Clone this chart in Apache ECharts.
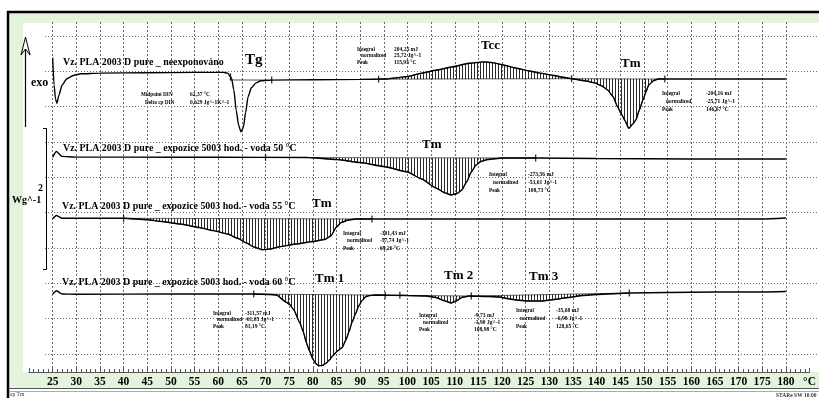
<!DOCTYPE html>
<html><head><meta charset="utf-8">
<script src="https://cdn.jsdelivr.net/npm/echarts@6/dist/echarts.min.js"></script>
<style>html,body{margin:0;padding:0;background:#fff}#c{width:819px;height:398px}</style>
</head><body><div id="c"></div><script>
// ---- DATA (temperature °C, heat flow W/g with display offset) ----
const curveUnexposed = [[25.0,4.49],[25.3,4.10],[25.6,3.90],[25.9,3.84],[26.3,3.95],[27.0,4.10],[28.0,4.19],[29.5,4.24],[31,4.26],[35,4.27],[45,4.275],[55,4.28],[61,4.28],[62,4.27],[62.8,4.20],[63.3,4.03],[63.8,3.74],[64.3,3.53],[64.8,3.43],[65.3,3.49],[65.8,3.71],[66.3,3.93],[67,4.06],[68,4.13],[69,4.16],[71,4.17],[80,4.175],[90,4.18],[95,4.185],[100,4.22],[103,4.27],[106,4.31],[109.6,4.36],[113,4.41],[116,4.43],[118,4.42],[120,4.39],[123,4.34],[125.8,4.30],[128,4.27],[130.6,4.24],[133,4.21],[134.7,4.19],[137.5,4.16],[139.6,4.13],[141,4.09],[142.3,4.03],[143.5,3.93],[144.4,3.79],[145.2,3.69],[145.9,3.60],[146.8,3.48],[147.6,3.54],[148.3,3.60],[149,3.74],[149.8,3.89],[150.4,4.00],[151,4.10],[152,4.16],[153,4.185],[160,4.185],[170,4.185],[180,4.185]];
const curveWater50 = [[25,3.07],[25.8,3.15],[27,3.08],[30,3.07],[40,3.07],[60,3.067],[79,3.064],[85,3.036],[90,2.993],[95,2.936],[100,2.857],[103,2.757],[106,2.629],[108,2.557],[109.2,2.529],[110.5,2.55],[111.5,2.60],[112.5,2.714],[113.5,2.857],[114.5,2.957],[115.5,3.007],[117,3.036],[120,3.057],[127.1,3.057],[140,3.05],[160,3.043],[180,3.043]];
const curveWater55 = [[25,2.19],[25.8,2.236],[27,2.196],[30,2.196],[40,2.196],[45,2.176],[48,2.15],[52,2.114],[56,2.064],[59,2.019],[62,1.971],[64,1.914],[66,1.843],[67.5,1.786],[69.3,1.747],[71,1.757],[73,1.79],[76.5,1.829],[80,1.864],[82.5,1.893],[83.8,1.943],[85,2.071],[86,2.136],[87.5,2.171],[89,2.186],[92.5,2.186],[100,2.186],[140,2.186],[175,2.186],[180,2.2]];
const curveWater60 = [[25,1.114],[25.8,1.161],[27,1.114],[30,1.11],[50,1.114],[67.5,1.114],[71,1.107],[72.3,1.10],[74.4,0.996],[75.1,0.964],[76,0.886],[77.2,0.71],[78,0.571],[78.6,0.424],[79.3,0.30],[80,0.186],[80.6,0.121],[81.2,0.09],[82,0.093],[82.8,0.124],[83.5,0.171],[84.2,0.233],[85.2,0.30],[86.2,0.35],[87,0.457],[87.6,0.567],[88.3,0.714],[89,0.829],[89.7,0.943],[90.4,1.019],[91.1,1.071],[91.8,1.09],[93.2,1.10],[100,1.093],[104,1.086],[106,1.064],[108,1.014],[109.2,0.986],[110.3,1.014],[111.5,1.064],[113,1.086],[117,1.079],[119.5,1.071],[121,1.05],[123,1.029],[125.5,1.014],[128.5,1.014],[131,1.036],[134,1.064],[137,1.093],[140,1.107],[146.9,1.129],[155,1.136],[165,1.143],[175,1.143],[180,1.15]];
const tgTangent = [[62.4,4.172],[71.3,4.170]];
// integration limits (°C) per curve
const limitsUnexposed = [62.6, 71.3, 93.9, 134.7, 154.4];
const limitsWater50 = [70.0, 127.1];
const limitsWater55 = [40.0, 92.5];
const limitsWater60 = [67.5, 95.3, 98.4, 113.5, 146.9];
// hatched peak areas: [curve index, from, to]
const peakAreas = [[0,93.9,134.7],[0,134.7,154.4],[1,70.0,127.1],[2,40.0,92.5],[3,67.5,95.3],[3,98.4,113.5],[3,113.5,146.9]];
const xTicks = [25,30,35,40,45,50,55,60,65,70,75,80,85,90,95,100,105,110,115,120,125,130,135,140,145,150,155,160,165,170,175,180];
const titles = ['Vz. PLA 2003 D pure _ neexponováno','Vz. PLA 2003 D pure _ expozice 5003 hod. - voda 50 °C','Vz. PLA 2003 D pure _ expozice 5003 hod. - voda 55 °C','Vz. PLA 2003 D pure _ expozice 5003 hod. - voda 60 °C'];
const peakNames = ['Tg','Tcc','Tm','Tm','Tm','Tm 1','Tm 2','Tm 3'];
const tgResult = [['Midpoint DIN','62,37 °C'],['Delta cp DIN','0,629 Jg^-1K^-1']];
const tccResult = [['Integral','204,25 mJ'],['normalized','25,72 Jg^-1'],['Peak','115,95 °C']];
const tmResult0 = [['Integral','-204,16 mJ'],['normalized','-25,71 Jg^-1'],['Peak','146,67 °C']];
const tmResult50 = [['Integral','-273,56 mJ'],['normalized','-53,61 Jg^-1'],['Peak','108,73 °C']];
const tmResult55 = [['Integral','-301,43 mJ'],['normalized','-57,74 Jg^-1'],['Peak','69,26 °C']];
const tm1Result60 = [['Integral','-311,57 mJ'],['normalized','-61,05 Jg^-1'],['Peak','81,19 °C']];
const tm2Result60 = [['Integral','-9,73 mJ'],['normalized','-1,90 Jg^-1'],['Peak','108,98 °C']];
const tm3Result60 = [['Integral','-35,68 mJ'],['normalized','-6,98 Jg^-1'],['Peak','128,65 °C']];

// ---- helpers ----
const curves = [curveUnexposed, curveWater50, curveWater55, curveWater60];
const limits = [limitsUnexposed, limitsWater50, limitsWater55, limitsWater60];
function interp(c, t){
  for (let i=0;i<c.length-1;i++){const a=c[i],b=c[i+1]; if(t>=a[0]&&t<=b[0]) return a[1]+(b[1]-a[1])*(t-a[0])/(b[0]-a[0]);}
  return c[c.length-1][1];
}
const hc = document.createElement('canvas'); hc.width=3; hc.height=4;
const hg = hc.getContext('2d'); hg.fillStyle='#2a2a2a'; hg.fillRect(0,0,1,4);
const hatch = {image: hc, repeat: 'repeat'};
const SERIF = '"Liberation Serif","Times New Roman",serif';
const GREEN = '#e3f3dc';

function txt(x,y,s,size,extra){
  return Object.assign({type:'text', x:x, y:y, z:100, silent:true,
    style:{text:s, font:'bold '+size+'px '+SERIF, fill:'#000', verticalAlign:'middle', align:'left'}}, extra||{});
}
function block(rows, x, vx, y0, dy){
  const out=[];
  rows.forEach((r,i)=>{
    out.push(txt(x + (i===1?4:0), y0+i*dy, r[0], 6.5, {scaleX:0.8}));
    out.push(txt(vx, y0+i*dy, r[1], 6.5, {scaleX:0.85}));
  });
  return out;
}

const graphics = [
  {type:'rect', z:-100, shape:{x:9,y:13,width:810,height:10}, style:{fill:GREEN}},
  {type:'rect', z:-100, shape:{x:9,y:13,width:14,height:376}, style:{fill:GREEN}},
  {type:'rect', z:-100, shape:{x:23,y:372,width:796,height:16}, style:{fill:GREEN}},
  {type:'line', z:50, shape:{x1:7,y1:12,x2:819,y2:12}, style:{stroke:'#000', lineWidth:2.5}},
  {type:'line', z:50, shape:{x1:8,y1:11,x2:8,y2:398}, style:{stroke:'#000', lineWidth:2.5}},
  {type:'line', z:50, shape:{x1:9,y1:388.5,x2:819,y2:388.5}, style:{stroke:'#555', lineWidth:1}},
  {type:'line', z:50, shape:{x1:9,y1:391.5,x2:819,y2:391.5}, style:{stroke:'#aaa', lineWidth:1}},
  // exo arrow
  {type:'polyline', z:50, shape:{points:[[21,55],[25.5,37],[30,55],[25.5,49],[21,55]]}, style:{stroke:'#000', lineWidth:1, fill:null}},
  {type:'line', z:50, shape:{x1:25.5,y1:49,x2:25.5,y2:127}, style:{stroke:'#000', lineWidth:1.2}},
  // scale bar
  {type:'polyline', z:50, shape:{points:[[43,128.5],[46.5,128.5],[46.5,269.5],[43,269.5]]}, style:{stroke:'#000', lineWidth:1, fill:null}},
  txt(31,83,'exo',12),
  txt(38,188,'2',10),
  txt(12,200,'Wg^-1',10),
  txt(10,395,'ap Tm',6, {style:{text:'ap Tm', font:'5.5px '+SERIF, fill:'#333', verticalAlign:'middle'}}),
  txt(776,396,'STARe SW 10.00',6, {style:{text:'STARe SW 10.00', font:'bold 5.5px '+SERIF, fill:'#333', verticalAlign:'middle'}}),
  txt(63,62,titles[0],11,{scaleX:0.9}), txt(63,148,titles[1],11,{scaleX:0.9}), txt(62,206,titles[2],11,{scaleX:0.9}), txt(62,282,titles[3],11,{scaleX:0.9}),
  txt(245,60,peakNames[0],15), txt(481,46,peakNames[1],13), txt(621,64,peakNames[2],13),
  txt(422,145,peakNames[3],13), txt(312,204,peakNames[4],13),
  txt(315,279,peakNames[5],13), txt(444,276,peakNames[6],13), txt(529,277,peakNames[7],13)
].concat(
  block(tgResult,141,190,94,8.5),
  block(tccResult,357,394,49,6.8),
  block(tmResult0,662,706,93,8),
  block(tmResult50,489,528,174,8),
  block(tmResult55,343,380,233,7.5),
  block(tm1Result60,213,245,313,6.5),
  block(tm2Result60,419,474,315,7),
  block(tm3Result60,516,556,310,8)
);

const lineSeries = curves.map((c,i)=>({
  type:'line', data:c, xAxisIndex:0, yAxisIndex:0, showSymbol:false, z:5, silent:true,
  smooth:0.2, smoothMonotone:'x', lineStyle:{color:'#000', width:1.4}
}));
const markData = [];
limits.forEach((l,i)=>l.forEach(t=>markData.push([t, interp(curves[i],t)])));
const hatchData = peakAreas.map(a=>[a[1], interp(curves[a[0]],a[1]), a[0], a[2]]);

const chart = echarts.init(document.getElementById('c'), null, {renderer:'canvas'});
chart.setOption({
  animation:false,
  backgroundColor:'#fff',
  grid:[{left:29,right:0,top:22,bottom:26},{left:45,right:0,top:36,bottom:44}],
  xAxis:[
    {gridIndex:0, type:'value', min:20, max:185, interval:5,
     axisLine:{show:true, lineStyle:{color:'#555', width:1}},
     axisTick:{show:true, inside:true, length:4, lineStyle:{color:'#555'}},
     minorTick:{show:true, splitNumber:5, length:3, lineStyle:{color:'#555'}},
     splitLine:{show:true, showMinLine:false, showMaxLine:false, lineStyle:{color:'#6a6a6a', type:[2,2], width:1}},
     axisLabel:{showMinLabel:false, margin:4, color:'#000', fontFamily:SERIF, fontWeight:'bold', fontSize:11.5,
       formatter:v=> v===185 ? '°C' : (xTicks.indexOf(v)>=0 ? String(v) : '')}},
    {gridIndex:1, type:'value', min:0, max:1, show:false}
  ],
  yAxis:[
    {gridIndex:0, type:'value', min:0, max:5, show:false},
    {gridIndex:1, type:'value', min:0, max:9, interval:1, axisLine:{show:false}, axisTick:{show:false}, axisLabel:{show:false},
     splitLine:{show:true, lineStyle:{color:'#6a6a6a', type:[1,2], width:1}}}
  ],
  graphic:{elements:graphics},
  series:[
    {type:'custom', xAxisIndex:0, yAxisIndex:0, z:3, silent:true, data:hatchData, encode:{x:0,y:1},
     renderItem:(params, api)=>{
       const d = hatchData[params.dataIndex]; const c = curves[d[2]]; const t0=d[0], t1=d[3];
       const pts=[api.coord([t0, interp(c,t0)])];
       c.forEach(p=>{ if(p[0]>t0 && p[0]<t1) pts.push(api.coord(p)); });
       pts.push(api.coord([t1, interp(c,t1)]));
       return {type:'polygon', shape:{points:pts}, style:{fill:hatch, stroke:'#000', lineWidth:0.6}};
     }},
    ...lineSeries,
    {type:'line', data:tgTangent, showSymbol:false, z:5, silent:true, lineStyle:{color:'#000', width:0.7}},
    {type:'scatter', data:markData, symbol:'rect', symbolSize:[1.3,7], itemStyle:{color:'#000'}, z:6, silent:true},
    {type:'scatter', xAxisIndex:1, yAxisIndex:1, data:[]}
  ]
});
</script></body></html>
